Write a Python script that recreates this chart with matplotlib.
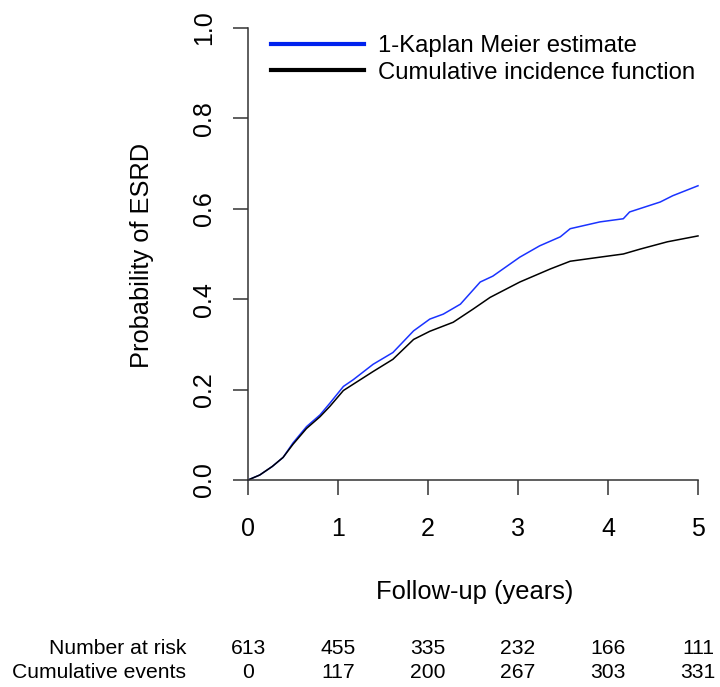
import matplotlib
matplotlib.use("Agg")
from matplotlib import pyplot as plt
from matplotlib.lines import Line2D

plt.rcParams['font.family'] = ['Liberation Sans', 'DejaVu Sans']

# 1 - Kaplan Meier
t_km = [0, 0.13, 0.27, 0.39, 0.5, 0.65, 0.8, 0.91, 1.06, 1.17, 1.39, 1.61, 1.84, 2.02,
        2.17, 2.36, 2.58, 2.72, 3.02, 3.24, 3.47, 3.58, 3.91, 4.17, 4.24, 4.58, 4.72, 5.0]
p_km = [0, 0.011, 0.03, 0.05, 0.082, 0.118, 0.144, 0.17, 0.207, 0.222, 0.256, 0.282, 0.33, 0.356,
        0.367, 0.389, 0.438, 0.451, 0.493, 0.518, 0.538, 0.556, 0.571, 0.578, 0.593, 0.615, 0.629, 0.651]

# Cumulative incidence function
t_cif = [0, 0.13, 0.27, 0.39, 0.5, 0.65, 0.8, 0.91, 1.06, 1.39, 1.61, 1.84, 2.02, 2.28,
         2.5, 2.69, 3.02, 3.36, 3.58, 3.91, 4.17, 4.36, 4.66, 5.0]
p_cif = [0, 0.011, 0.03, 0.05, 0.079, 0.114, 0.14, 0.163, 0.198, 0.24, 0.267, 0.311, 0.329, 0.349,
         0.378, 0.404, 0.438, 0.467, 0.484, 0.493, 0.5, 0.511, 0.527, 0.54]

# tabella sotto il grafico
anni = [0, 1, 2, 3, 4, 5]
at_risk = [613, 455, 335, 232, 166, 111]
cum_events = [0, 117, 200, 267, 303, 331]
y_ticks = [0.0, 0.2, 0.4, 0.6, 0.8, 1.0]

W, H = 720, 687
fig = plt.figure(figsize=(W / 100, H / 100), dpi=100)
ax = fig.add_axes([248 / W, (H - 480) / H, 450 / W, 452 / H])

ax.plot(t_km, p_km, color='#1a33ff', lw=1.1, clip_on=False)
ax.plot(t_cif, p_cif, color='black', lw=1.1, clip_on=False)

ax.set_xlim(0, 5)
ax.set_ylim(0, 1)
ax.set_xticks(anni)
ax.set_yticks(y_ticks)
ax.set_yticklabels([f"{v:.1f}" for v in y_ticks], rotation=90, va='center')

for s in ['top', 'right']:
    ax.spines[s].set_visible(False)
for s in ['left', 'bottom']:
    ax.spines[s].set_linewidth(1.1)
    ax.spines[s].set_color('#333333')
ax.tick_params(axis='both', direction='out', length=10.8, width=1.1, color='#333333',
               labelsize=18)
ax.tick_params(axis='x', pad=16)
ax.tick_params(axis='y', pad=12)

fig.text(142 / W, 1 - 255 / H, "Probability of ESRD", rotation=90,
         ha='center', va='center', fontsize=18.3)
fig.text(475 / W, 1 - 592 / H, "Follow-up (years)", ha='center', va='center', fontsize=18.4)

# legenda
handles = [Line2D([], [], color='#0022ee', lw=3),
           Line2D([], [], color='black', lw=3)]
fig.legend(handles, ["1-Kaplan Meier estimate", "Cumulative incidence function"],
           loc='upper left', bbox_to_anchor=(271 / W, 1 - 35 / H), frameon=False,
           fontsize=17.2, handlelength=3.9, handletextpad=0.58, labelspacing=0.2,
           borderpad=0, borderaxespad=0)

# numero a rischio ed eventi cumulativi
fig.text(186 / W, 1 - 648 / H, "Number at risk", ha='right', va='center', fontsize=15.2)
fig.text(186 / W, 1 - 672 / H, "Cumulative events", ha='right', va='center', fontsize=15.2)
for a, n, e in zip(anni, at_risk, cum_events):
    xf = ax.transData.transform((a, 0))[0] / W
    fig.text(xf, 1 - 648 / H, str(n), ha='center', va='center', fontsize=15.2)
    fig.text(xf, 1 - 672 / H, str(e), ha='center', va='center', fontsize=15.2)

fig.savefig("out.png", dpi=100)
